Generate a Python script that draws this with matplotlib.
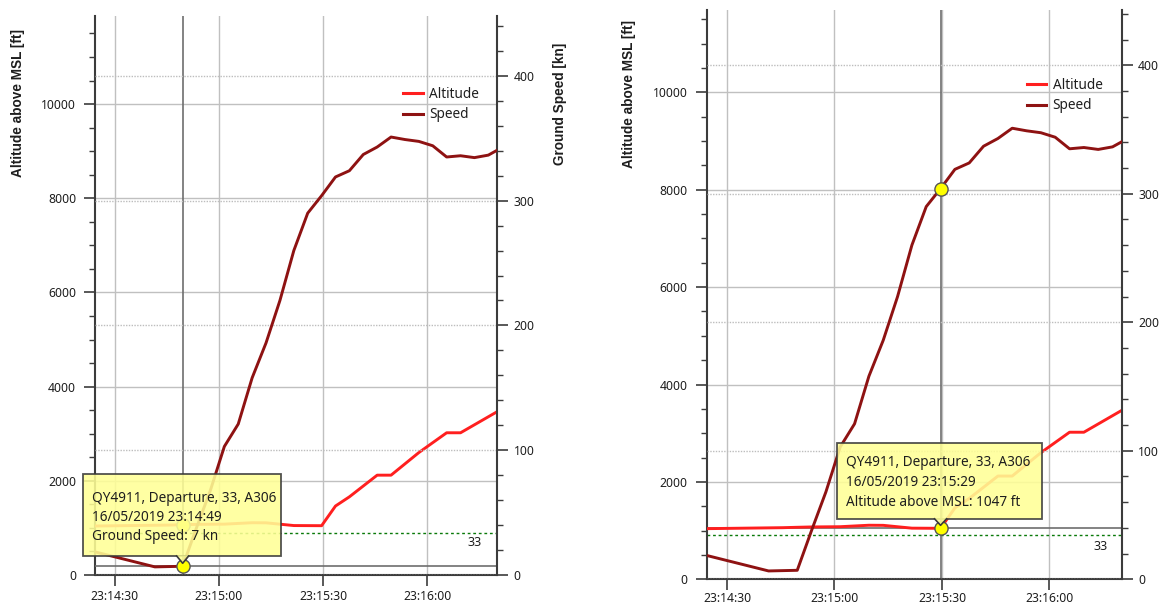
import matplotlib
matplotlib.use("Agg")
import matplotlib.pyplot as plt
import matplotlib.dates as mdates
from matplotlib.ticker import MultipleLocator
from matplotlib.lines import Line2D
from matplotlib.patches import Rectangle, Polygon
from matplotlib.transforms import IdentityTransform
import pandas as pd

# ---------------- data ----------------
DAY = "2019-05-16 "
alt_times = ["23:14:24.4", "23:14:45.6", "23:14:49.6", "23:14:53.6", "23:15:01.6",
             "23:15:09.6", "23:15:13.6", "23:15:21.6", "23:15:29.6", "23:15:33.6",
             "23:15:37.6", "23:15:41.6", "23:15:45.6", "23:15:49.6", "23:15:57.6",
             "23:16:05.6", "23:16:09.6", "23:16:20.2"]
alt_ft = [1040, 1060, 1068, 1075, 1080,
          1110, 1108, 1050, 1047, 1465,
          1660, 1890, 2120, 2120, 2600,
          3020, 3020, 3470]

spd_times = ["23:14:24.4", "23:14:41.6", "23:14:49.6", "23:14:53.6", "23:14:57.6",
             "23:15:01.6", "23:15:05.6", "23:15:09.6", "23:15:13.6", "23:15:17.6",
             "23:15:21.6", "23:15:25.6", "23:15:29.6", "23:15:33.6", "23:15:37.6",
             "23:15:41.6", "23:15:45.6", "23:15:49.6", "23:15:53.6", "23:15:57.6",
             "23:16:01.6", "23:16:05.6", "23:16:09.6", "23:16:13.6", "23:16:17.6",
             "23:16:20.2"]
spd_kn = [18.5, 6.5, 7, 38, 68,
          103, 121, 158, 186, 220,
          260, 290, 304, 319, 324,
          337, 343, 351, 349, 347.5,
          344, 335, 336, 334.5, 336.5,
          340.5]

runway_name = "33"
runway_level_ft = 900
flight_info = "QY4911, Departure, 33, A306"

# hovered samples of the two screenshots
hover_times = ["23:14:49.6", "23:15:29.6"]
hover_labels = ["16/05/2019 23:14:49", "16/05/2019 23:15:29"]
hover_series = ["speed", "altitude"]
hover_texts = ["Ground Speed: 7 kn", "Altitude above MSL: 1047 ft"]

x_range = ["23:14:24.5", "23:16:20.1"]
alt_top = [11870, 11690]
spd_top = [448, 443]

# ---------------- style ----------------
FONT = ["Noto Sans", "DejaVu Sans"]
BOLD_FONT = ["Liberation Sans", "DejaVu Sans"]
plt.rcParams["font.family"] = FONT
TXT = "#1e1e1e"
SPINE = "#3c3c3c"
ALT_C = "#ff1f1f"
SPD_C = "#8e1212"
GRID_C = "#c0c0c0"
DOT_C = "#bdbdbd"
CURSOR_C = "#6e6e6e"
TIP_FACE = "#ffff96"

W, H = 1159, 608
fig = plt.figure(figsize=(W / 100, H / 100), dpi=100)


def to_dt(lst):
    return pd.to_datetime([DAY + t for t in lst])


at = to_dt(alt_times)
st = to_dt(spd_times)

# axes boxes in pixels: x0, x1, ytop, ybottom (image coordinates)
boxes = [(95.5, 497.0, 16.0, 575.0), (707.3, 1121.5, 10.0, 579.3)]
ylab_pos = [(18.5, 103), (629, 94)]
ylab2_pos = [(560, 104), None]
legend_pos = [(400.5, 84), (1024, 75)]
xpad = [2.5, 1.5]
# tooltip geometry relative to the hovered point (pixels, up = positive)
tip_box = [(-99.3, 98.5, 10.3, 92.3), (-103.6, 101.7, 9.5, 85.5)]
tip_text = [(-91.0, [68.0, 49.0, 29.6]), (-94.3, [65.5, 46.2, 26.2])]
rw_label_pos = [(475, 542), (1101, 546)]

for i in range(2):
    x0, x1, yt, yb = boxes[i]
    ax = fig.add_axes([x0 / W, (H - yb) / H, (x1 - x0) / W, (yb - yt) / H])
    ax2 = ax.twinx()
    ax.set_zorder(1)
    ax2.set_zorder(2)
    ax.patch.set_visible(False)
    ax2.patch.set_visible(False)

    xr = to_dt(x_range)
    ax.set_xlim(xr[0], xr[1])
    ax.set_ylim(0, alt_top[i])
    ax2.set_ylim(0, spd_top[i])

    ax.xaxis.set_major_locator(mdates.SecondLocator(bysecond=[0, 30]))
    ax.xaxis.set_major_formatter(mdates.DateFormatter("%H:%M:%S"))
    ax.yaxis.set_major_locator(MultipleLocator(2000))
    ax.yaxis.set_minor_locator(MultipleLocator(500))
    ax2.yaxis.set_major_locator(MultipleLocator(100))
    ax2.yaxis.set_minor_locator(MultipleLocator(20))

    for a in (ax, ax2):
        for s in a.spines.values():
            s.set_color(SPINE)
            s.set_linewidth(1.5)
        a.spines["top"].set_visible(False)
    ax.spines["right"].set_visible(False)
    ax2.spines["left"].set_visible(False)
    ax2.spines["bottom"].set_visible(False)

    ax.tick_params(axis="y", which="major", length=8, width=1.2, color=SPINE,
                   labelsize=8.8, labelcolor=TXT, pad=6)
    ax.tick_params(axis="x", which="major", length=8, width=1.2, color=SPINE,
                   labelsize=8.8, labelcolor=TXT, pad=xpad[i])
    ax.tick_params(axis="y", which="minor", length=4, width=1.0, color=SPINE)
    ax2.tick_params(axis="y", which="major", length=8, width=1.2, color=SPINE,
                    labelsize=8.8, labelcolor=TXT, pad=4)
    ax2.tick_params(axis="y", which="minor", length=4, width=1.0, color=SPINE)

    # grids
    ax.grid(True, axis="x", color=GRID_C, lw=1.0, zorder=0)
    ax.grid(True, axis="y", color=GRID_C, lw=1.0, zorder=0)
    ax2.grid(True, axis="y", color=DOT_C, lw=1.0, ls=(0, (1, 1)))
    ax.set_axisbelow(True)
    ax2.set_axisbelow(True)

    # runway reference
    ax.axhline(runway_level_ft, color="#0a7a0a", lw=1.0, ls=(0, (2, 2)), zorder=2)
    fig.text(rw_label_pos[i][0] / W, (H - rw_label_pos[i][1]) / H, runway_name,
             ha="center", va="center", fontsize=9, color=TXT)

    # cursor lines
    ht = to_dt([hover_times[i]])[0]
    ax.axvline(ht, color=CURSOR_C, lw=1.2, zorder=2)
    ai = list(at).index(ht)
    si = list(st).index(ht)
    if hover_series[i] == "speed":
        ax2.axhline(spd_kn[si], color=CURSOR_C, lw=1.2, zorder=1)
    else:
        ax.axhline(alt_ft[ai], color=CURSOR_C, lw=1.2, zorder=2)

    # series
    ax.plot(at, alt_ft, color=ALT_C, lw=2.1, zorder=3, solid_joinstyle="round")
    ax2.plot(st, spd_kn, color=SPD_C, lw=2.1, zorder=3, solid_joinstyle="round")

    # hover markers
    ax.plot([ht], [alt_ft[ai]], "o", ms=9.5, mfc="#ffff00", mec="#555555", mew=1.0, zorder=5)
    ax2.plot([ht], [spd_kn[si]], "o", ms=9.5, mfc="#ffff00", mec="#555555", mew=1.0, zorder=5)

    # axis labels
    lx, ly = ylab_pos[i]
    fig.text(lx / W, (H - ly) / H, "Altitude above MSL [ft]", rotation=90,
             ha="center", va="center", fontsize=9.8, fontweight="bold",
             family=BOLD_FONT, color=TXT)
    if ylab2_pos[i] is not None:
        lx, ly = ylab2_pos[i]
        fig.text(lx / W, (H - ly) / H, "Ground Speed [kn]", rotation=90,
                 ha="center", va="center", fontsize=9.8, fontweight="bold",
                 family=BOLD_FONT, color=TXT)

    # legend
    handles = [Line2D([], [], color=ALT_C, lw=2.2), Line2D([], [], color=SPD_C, lw=2.2)]
    lgx, lgy = legend_pos[i]
    fig.legend(handles, ["Altitude", "Speed"], loc="upper left",
               bbox_to_anchor=(lgx / W, (H - lgy) / H), frameon=False,
               fontsize=9.8, handlelength=1.45, handletextpad=0.45,
               labelspacing=0.42, borderpad=0.2, borderaxespad=0,
               labelcolor=TXT)

    # tooltip
    fig.canvas.draw()
    if hover_series[i] == "speed":
        px, py = ax2.transData.transform((mdates.date2num(ht), spd_kn[si]))
    else:
        px, py = ax.transData.transform((mdates.date2num(ht), alt_ft[ai]))
    dx0, dx1, b, t = tip_box[i]
    rect = Rectangle((px + dx0, py + b), dx1 - dx0, t - b, transform=IdentityTransform(),
                     facecolor=TIP_FACE, edgecolor="#3a3a3a", lw=1.3, alpha=0.88, zorder=20)
    fig.add_artist(rect)
    tail = Polygon([(px - 6, py + b + 0.8), (px, py + 3), (px + 6, py + b + 0.8)],
                   closed=True, transform=IdentityTransform(), facecolor=TIP_FACE,
                   edgecolor="none", alpha=0.88, zorder=21)
    fig.add_artist(tail)
    fig.add_artist(Line2D([px - 6, px, px + 6], [py + b, py + 3, py + b],
                          transform=IdentityTransform(), color="#3a3a3a", lw=1.2, zorder=22))
    tx, tys = tip_text[i]
    lines = [flight_info, hover_labels[i], hover_texts[i]]
    for s, ty in zip(lines, tys):
        fig.text(px + tx, py + ty, s, transform=IdentityTransform(), ha="left",
                 va="center", fontsize=9.8, color=TXT, zorder=23)

fig.savefig("out.png", dpi=100)
